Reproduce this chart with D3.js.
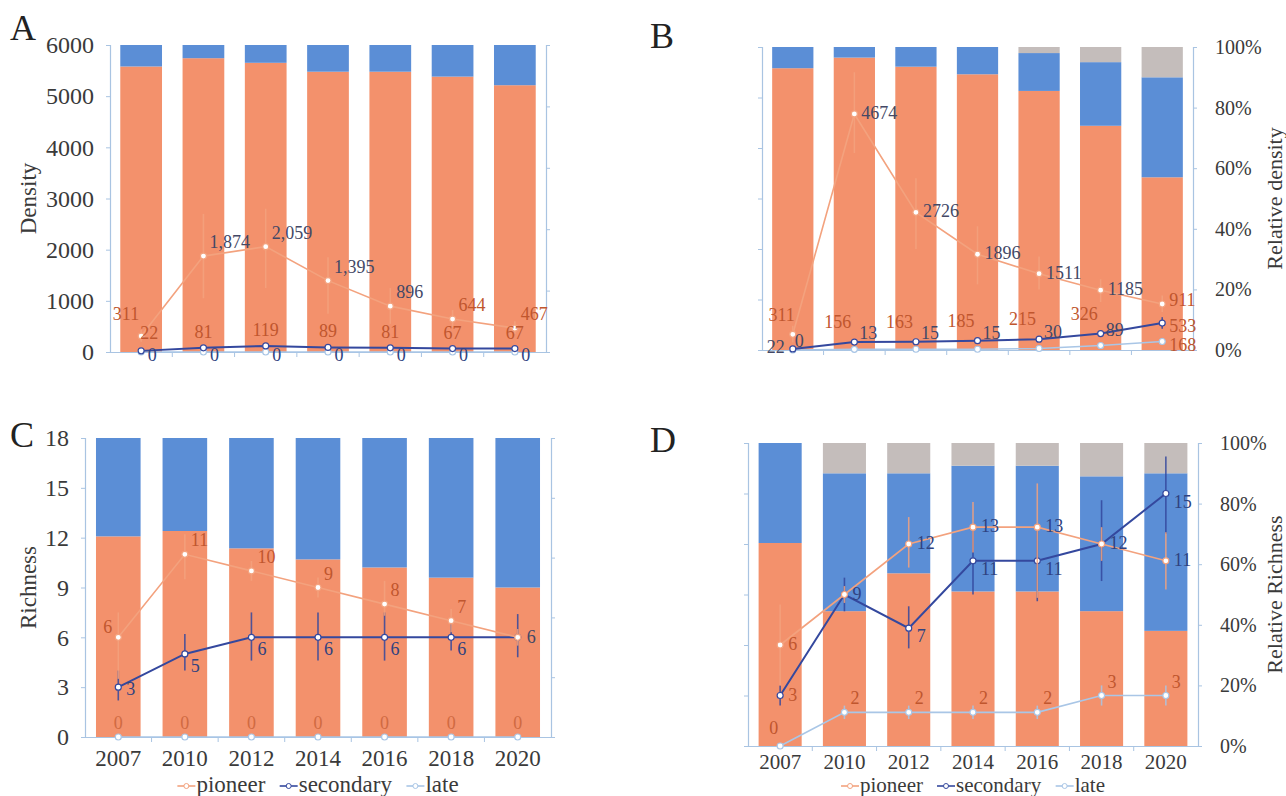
<!DOCTYPE html>
<html>
<head>
<meta charset="utf-8">
<script src="https://cdn.jsdelivr.net/npm/d3@7"></script>
<style>
  body { margin: 0; background: #fff; }
  svg text { font-family: "Liberation Serif", "Times New Roman", serif; }
</style>
</head>
<body>
<svg id="chart" width="1286" height="796" font-family="Liberation Serif, serif"></svg>
<script>
const years = ["2007", "2010", "2012", "2014", "2016", "2018", "2020"];
const seriesNames = ["pioneer", "secondary", "late"];

// A - density (bars = share of density, %)
const barPioneerA = [93.0, 95.7, 94.2, 91.3, 91.3, 89.7, 86.9];
const barSecondaryA = [7.0, 4.3, 5.8, 8.7, 8.7, 10.3, 13.1];
const barLateA = [0, 0, 0, 0, 0, 0, 0];
const densPioneerA = [311, 1874, 2059, 1395, 896, 644, 467];
const densSecondaryA = [22, 81, 119, 89, 81, 67, 67];
const densLateA = [0, 0, 0, 0, 0, 0, 0];
const errPioneerA = [[200, 430], [1050, 2700], [1250, 2800], [750, 1850], [550, 1250], [480, 820], [350, 600]];
const errSecondaryA = [[10, 35], [50, 110], [80, 160], [60, 120], [55, 110], [45, 90], [45, 90]];
const errLateA = [[0, 0], [0, 0], [0, 0], [0, 0], [0, 0], [0, 0], [0, 0]];

// B - density, second site
const barPioneerB = [93, 96.5, 93.5, 91, 85.5, 74, 57];
const barSecondaryB = [7, 3.5, 6.5, 9, 12.5, 21, 33];
const barLateB = [0, 0, 0, 0, 2, 5, 10];
const densPioneerB = [311, 4674, 2726, 1896, 1511, 1185, 911];
const densSecondaryB = [22, 156, 163, 185, 215, 326, 533];
const densLateB = [0, 13, 15, 15, 30, 89, 168];
const errPioneerB = [[150, 480], [3900, 5500], [2000, 3400], [1300, 2450], [1200, 1850], [950, 1400], [750, 1080]];
const errSecondaryB = [[10, 35], [120, 190], [130, 200], [150, 220], [170, 260], [260, 390], [420, 650]];
const errLateB = [[0, 0], [5, 25], [5, 25], [5, 25], [15, 45], [50, 130], [100, 240]];

// C - richness
const barPioneerC = [67.1, 68.9, 63.1, 59.4, 56.7, 53.3, 50.0];
const barSecondaryC = [32.9, 31.1, 36.9, 40.6, 43.3, 46.7, 50.0];
const barLateC = [0, 0, 0, 0, 0, 0, 0];
const richPioneerC = [6, 11, 10, 9, 8, 7, 6];
const richSecondaryC = [3, 5, 6, 6, 6, 6, 6];
const richLateC = [0, 0, 0, 0, 0, 0, 0];
const errPioneerC = [[3.5, 7.5], [9.5, 12.2], [9.4, 10.6], [8.4, 9.6], [7.3, 9.4], [6.3, 7.7], [5.5, 6.5]];
const errSecondaryC = [[2.2, 4.0], [4.0, 6.2], [4.6, 7.5], [4.6, 7.5], [4.6, 7.5], [5.2, 6.8], [4.8, 7.4]];
const errLateC = [[0, 0], [0, 0], [0, 0], [0, 0], [0, 0], [0, 0], [0, 0]];

// D - richness, second site
const barPioneerD = [67, 44.5, 57, 51, 51, 44.5, 38];
const barSecondaryD = [33, 45.5, 33, 41.5, 41.5, 44.5, 52];
const barLateD = [0, 10, 10, 7.5, 7.5, 11, 10];
const richPioneerD = [6, 9, 12, 13, 13, 12, 11];
const richSecondaryD = [3, 9, 7, 11, 11, 12, 15];
const richLateD = [0, 2, 2, 2, 2, 3, 3];
const errPioneerD = [[3.6, 8.4], [8.5, 9.5], [10.6, 13.6], [11.5, 14.5], [8.8, 15.6], [11, 13], [9.3, 12.7]];
const errSecondaryD = [[2.4, 3.6], [8, 10], [5.8, 8.3], [9, 13], [8.6, 13.2], [9.8, 14.6], [12.6, 17.2]];
const errLateD = [[0, 0], [1.6, 2.4], [1.6, 2.4], [1.6, 2.4], [1.6, 2.4], [2.4, 3.6], [2.4, 3.6]];

const barColors = {pioneer: "#F3916C", secondary: "#5B8ED6", late: "#C4BDBB"};
const lineColors = {pioneer: "#F3A27E", secondary: "#34489E", late: "#A9C6E6"};
const axisColor = "#A9C4E2";
const textColor = "#3a3a3a";

class SuccessionPanel {

  constructor(_config, _data) {
    this.config = {
      parentElement: _config.parentElement,
      letter: _config.letter,
      letterPos: _config.letterPos,
      x0: _config.x0, x1: _config.x1,
      y0: _config.y0, y1: _config.y1,
      barPadding: _config.barPadding || 0.33,
      lineMax: _config.lineMax,
      leftTicks: _config.leftTicks,
      leftLabels: _config.leftLabels,
      leftTitle: _config.leftTitle || null,
      rightLabels: _config.rightLabels,
      rightTitle: _config.rightTitle || null,
      showYears: _config.showYears,
      yearPadding: _config.yearPadding || 14,
      yearSize: _config.yearSize || 23,
      legendY: _config.legendY || null,
      legendSize: _config.legendSize || 23,
      valueFormat: _config.valueFormat || d3.format("d"),
      labelStyle: _config.labelStyle
    };
    this.data = _data;
    this.initVis();
  }

  initVis() {
    let vis = this;
    let c = vis.config;

    vis.g = d3.select(c.parentElement).append('g');

    vis.xScale = d3.scaleBand()
      .domain(years)
      .range([c.x0, c.x1])
      .paddingInner(c.barPadding)
      .paddingOuter(c.barPadding / 2);
    vis.yPct = d3.scaleLinear().domain([0, 100]).range([c.y1, c.y0]);
    vis.yVal = d3.scaleLinear().domain([0, c.lineMax]).range([c.y1, c.y0]);
    vis.cx = yr => vis.xScale(yr) + vis.xScale.bandwidth() / 2;

    vis.renderVis();
  }

  styleAxis(sel, size) {
    sel.attr('font-family', null);
    sel.select('.domain').attr('stroke', axisColor).attr('stroke-width', 1.2);
    sel.selectAll('.tick line').attr('stroke', axisColor);
    sel.selectAll('.tick text')
      .attr('fill', textColor)
      .style('font-size', size + 'px');
  }

  renderVis() {
    let vis = this;
    let c = vis.config;
    let d = vis.data;

    // stacked share bars
    let rows = years.map((yr, i) => ({
      year: yr,
      pioneer: d.bars.pioneer[i],
      secondary: d.bars.secondary[i],
      late: d.bars.late[i]
    }));
    let stacked = d3.stack().keys(seriesNames)(rows);

    vis.g.append('g')
      .selectAll('g')
      .data(stacked)
      .join('g')
        .attr('fill', s => barColors[s.key])
      .selectAll('rect')
      .data(s => s)
      .join('rect')
        .attr('x', r => vis.xScale(r.data.year))
        .attr('width', vis.xScale.bandwidth())
        .attr('y', r => vis.yPct(r[1]))
        .attr('height', r => vis.yPct(r[0]) - vis.yPct(r[1]));

    // left axis
    let leftAxis = d3.axisLeft(vis.yVal)
      .tickValues(c.leftTicks)
      .tickSize(4)
      .tickPadding(c.leftLabels ? 12 : 2)
      .tickFormat(c.leftLabels ? d3.format("d") : "");
    vis.g.append('g')
      .attr('transform', `translate(${c.x0},0)`)
      .call(leftAxis)
      .call(sel => vis.styleAxis(sel, 24));

    // right axis (percent)
    let rightAxis = d3.axisRight(vis.yPct)
      .tickValues([0, 20, 40, 60, 80, 100])
      .tickSize(4)
      .tickPadding(18)
      .tickFormat(c.rightLabels ? (v => v + "%") : "");
    vis.g.append('g')
      .attr('transform', `translate(${c.x1},0)`)
      .call(rightAxis)
      .call(sel => vis.styleAxis(sel, 20));

    // bottom axis
    let bottomAxis = d3.axisBottom(vis.xScale)
      .tickSize(0)
      .tickPadding(c.yearPadding)
      .tickFormat(c.showYears ? (yr => yr) : "");
    vis.g.append('g')
      .attr('transform', `translate(0,${c.y1})`)
      .call(bottomAxis)
      .call(sel => vis.styleAxis(sel, c.yearSize));

    // small ticks between the bars
    let step = vis.xScale.step();
    vis.g.append('g')
      .selectAll('line')
      .data(years.slice(1))
      .join('line')
        .attr('x1', yr => vis.xScale(yr) - step * c.barPadding / 2)
        .attr('x2', yr => vis.xScale(yr) - step * c.barPadding / 2)
        .attr('y1', c.y1)
        .attr('y2', c.y1 + 5)
        .attr('stroke', axisColor);

    // panel letter
    vis.g.append('text')
      .attr('x', c.letterPos[0])
      .attr('y', c.letterPos[1])
      .attr('fill', '#222')
      .style('font-size', '36px')
      .text(c.letter);

    // axis titles
    if (c.leftTitle) {
      vis.g.append('text')
        .attr('transform', `translate(28,${(c.y0 + c.y1) / 2}) rotate(-90)`)
        .attr('text-anchor', 'middle')
        .attr('dy', '0.35em')
        .attr('fill', textColor)
        .style('font-size', '23px')
        .text(c.leftTitle);
    }
    if (c.rightTitle) {
      vis.g.append('text')
        .attr('transform', `translate(1274,${(c.y0 + c.y1) / 2}) rotate(-90)`)
        .attr('text-anchor', 'middle')
        .attr('dy', '0.35em')
        .attr('fill', textColor)
        .style('font-size', '22px')
        .text(c.rightTitle);
    }

    // error bars, lines, markers, value labels
    let order = ["late", "secondary", "pioneer"];
    order.forEach(key => {
      let vals = d.lines[key];
      let errs = d.errors[key];
      let pts = years.map((yr, i) => ({year: yr, v: vals[i], i: i}));

      vis.g.append('g')
        .selectAll('line')
        .data(pts.filter(p => errs[p.i][1] > errs[p.i][0]))
        .join('line')
          .attr('x1', p => vis.cx(p.year))
          .attr('x2', p => vis.cx(p.year))
          .attr('y1', p => vis.yVal(errs[p.i][0]))
          .attr('y2', p => vis.yVal(errs[p.i][1]))
          .attr('stroke', lineColors[key])
          .attr('stroke-width', 1.6)
          .attr('opacity', 0.85);

      let line = d3.line()
        .x(p => vis.cx(p.year))
        .y(p => vis.yVal(p.v));
      vis.g.append('path')
        .datum(pts)
        .attr('d', line)
        .attr('fill', 'none')
        .attr('stroke', lineColors[key])
        .attr('stroke-width', key === "secondary" ? 2 : 1.6);

      vis.g.append('g')
        .selectAll('circle')
        .data(pts)
        .join('circle')
          .attr('cx', p => vis.cx(p.year))
          .attr('cy', p => vis.yVal(p.v))
          .attr('r', 3)
          .attr('fill', '#fff')
          .attr('stroke', lineColors[key])
          .attr('stroke-width', 1.2);
    });

    order.forEach(key => {
      let st = c.labelStyle[key];
      let pts = years.map((yr, i) => ({year: yr, v: d.lines[key][i], i: i}))
        .filter(p => !(st.over && st.over[p.i] && st.over[p.i].hide));
      let pick = (p, prop) => (st.over && st.over[p.i] && st.over[p.i][prop] !== undefined) ? st.over[p.i][prop] : st[prop];
      vis.g.append('g')
        .selectAll('text')
        .data(pts)
        .join('text')
          .attr('x', p => vis.cx(p.year) + pick(p, 'dx'))
          .attr('y', p => vis.yVal(p.v) + pick(p, 'dy'))
          .attr('text-anchor', p => pick(p, 'anchor'))
          .attr('fill', p => pick(p, 'color'))
          .style('font-size', '18px')
          .text(p => c.valueFormat(p.v));
    });

    if (c.legendY) vis.renderLegend();
  }

  renderLegend() {
    let vis = this;
    let c = vis.config;
    let gap = 14, sym = 18;
    let leg = vis.g.append('g').attr('transform', `translate(0,${c.legendY})`);
    let items = leg.selectAll('g')
      .data(seriesNames)
      .join('g');
    items.append('line')
      .attr('x1', 0).attr('x2', sym).attr('y1', -6).attr('y2', -6)
      .attr('stroke', k => lineColors[k]).attr('stroke-width', 1.6);
    items.append('circle')
      .attr('cx', sym / 2).attr('cy', -6).attr('r', 2.5)
      .attr('fill', '#fff').attr('stroke', k => lineColors[k]);
    items.append('text')
      .attr('x', sym + 1)
      .attr('fill', textColor)
      .style('font-size', c.legendSize + 'px')
      .text(k => k);

    // lay the items out from their measured widths, centred under the plot
    let widths = [];
    items.each(function() { widths.push(this.getBBox().width); });
    let total = d3.sum(widths) + gap * (widths.length - 1);
    let x = (c.x0 + c.x1) / 2 - total / 2;
    items.attr('transform', (k, i) => {
      let t = `translate(${x},0)`;
      x += widths[i] + gap;
      return t;
    });
  }
}

const darkLabel = "#434866";
const orangeLabel = "#C0562E";
const navyLabel = "#2F4280";

new SuccessionPanel({
  parentElement: '#chart', letter: 'A', letterPos: [10, 40],
  x0: 110, x1: 546, y0: 45, y1: 352,
  lineMax: 6000, leftTicks: d3.range(0, 6001, 1000), leftLabels: true, leftTitle: 'Density',
  rightLabels: false, showYears: false, valueFormat: d3.format(","),
  labelStyle: {
    pioneer: {anchor: 'start', dx: 6, dy: -8, color: darkLabel, over: {0: {anchor: 'end', dx: -2, dy: -16, color: orangeLabel}, 5: {color: orangeLabel}, 6: {color: orangeLabel}}},
    secondary: {anchor: 'middle', dx: 0, dy: -10, color: orangeLabel, over: {0: {dx: 8, dy: -12}}},
    late: {anchor: 'middle', dx: 11, dy: 9, color: navyLabel}
  }
}, {
  bars: {pioneer: barPioneerA, secondary: barSecondaryA, late: barLateA},
  lines: {pioneer: densPioneerA, secondary: densSecondaryA, late: densLateA},
  errors: {pioneer: errPioneerA, secondary: errSecondaryA, late: errLateA}
});

new SuccessionPanel({
  parentElement: '#chart', letter: 'B', letterPos: [650, 48],
  x0: 762, x1: 1193, y0: 47, y1: 350,
  lineMax: 6000, leftTicks: d3.range(0, 6001, 1000), leftLabels: false,
  rightLabels: true, rightTitle: 'Relative density', showYears: false,
  labelStyle: {
    pioneer: {anchor: 'start', dx: 7, dy: 5, color: darkLabel, over: {0: {anchor: 'end', dx: 2, dy: -13, color: orangeLabel}, 6: {dy: 2, color: orangeLabel}}},
    secondary: {anchor: 'end', dx: -3, dy: -14, color: orangeLabel, over: {0: {dx: -8, dy: 4, color: darkLabel}, 6: {anchor: 'start', dx: 7, dy: 9}}},
    late: {anchor: 'start', dx: 5, dy: -10, color: darkLabel, over: {0: {dx: 2, dy: -3}, 6: {dx: 7, dy: 9, color: orangeLabel}}}
  }
}, {
  bars: {pioneer: barPioneerB, secondary: barSecondaryB, late: barLateB},
  lines: {pioneer: densPioneerB, secondary: densSecondaryB, late: densLateB},
  errors: {pioneer: errPioneerB, secondary: errSecondaryB, late: errLateB}
});

new SuccessionPanel({
  parentElement: '#chart', letter: 'C', letterPos: [10, 447],
  x0: 85, x1: 551, y0: 438, y1: 737,
  lineMax: 18, leftTicks: d3.range(0, 19, 3), leftLabels: true, leftTitle: 'Richness',
  rightLabels: false, showYears: true, yearPadding: 13, legendY: 792,
  labelStyle: {
    pioneer: {anchor: 'start', dx: 6, dy: -8, color: orangeLabel, over: {0: {anchor: 'end', dx: -6, dy: -4}, 6: {dx: 9, dy: 6, color: darkLabel}}},
    secondary: {anchor: 'start', dx: 6, dy: 18, color: navyLabel, over: {0: {dx: 8, dy: 8}, 6: {hide: true}}},
    late: {anchor: 'middle', dx: 0, dy: -8, color: "#D06A42"}
  }
}, {
  bars: {pioneer: barPioneerC, secondary: barSecondaryC, late: barLateC},
  lines: {pioneer: richPioneerC, secondary: richSecondaryC, late: richLateC},
  errors: {pioneer: errPioneerC, secondary: errSecondaryC, late: errLateC}
});

new SuccessionPanel({
  parentElement: '#chart', letter: 'D', letterPos: [650, 452],
  x0: 748, x1: 1198, y0: 443, y1: 746,
  lineMax: 18, leftTicks: d3.range(0, 19, 3), leftLabels: false,
  rightLabels: true, rightTitle: 'Relative Richness', showYears: true,
  yearPadding: 8, yearSize: 21, legendY: 792, legendSize: 21,
  labelStyle: {
    pioneer: {anchor: 'start', dx: 8, dy: 5, color: navyLabel, over: {0: {color: orangeLabel}, 1: {hide: true}}},
    secondary: {anchor: 'start', dx: 8, dy: 14, color: navyLabel, over: {0: {dy: 5, color: orangeLabel}, 1: {dy: 5}, 5: {hide: true}}},
    late: {anchor: 'start', dx: 6, dy: -8, color: orangeLabel, over: {0: {anchor: 'end', dx: -2, dy: -12}}}
  }
}, {
  bars: {pioneer: barPioneerD, secondary: barSecondaryD, late: barLateD},
  lines: {pioneer: richPioneerD, secondary: richSecondaryD, late: richLateD},
  errors: {pioneer: errPioneerD, secondary: errSecondaryD, late: errLateD}
});
</script>
</body>
</html>
